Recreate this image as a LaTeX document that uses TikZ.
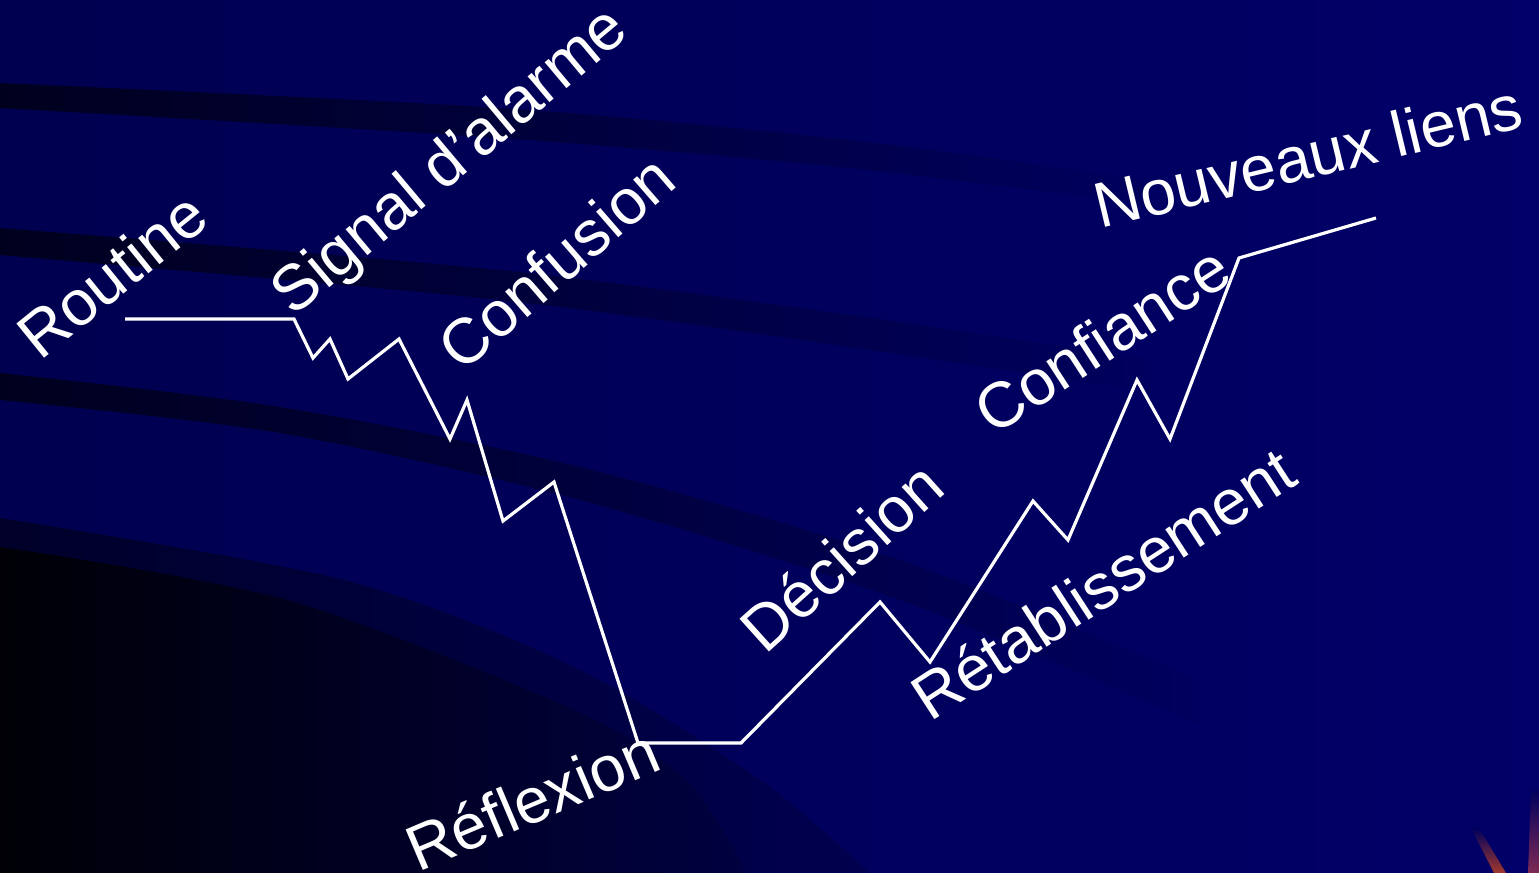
\documentclass[tikz,border=0pt]{standalone}
\usepackage{fontspec}
\setmainfont{Liberation Sans}
\definecolor{bgL}{HTML}{000050}
\definecolor{bgR}{HTML}{000068}
\definecolor{bg}{HTML}{00005E}
\definecolor{band}{HTML}{00001E}
\definecolor{ring}{HTML}{00002A}
\definecolor{deep}{HTML}{000006}
\definecolor{deepR}{HTML}{000040}
\definecolor{streakA}{HTML}{A0382E}
\definecolor{streakB}{HTML}{7E2A55}
\tikzset{
  lab/.style={text=white, inner sep=0pt, anchor=base west,
    font=\fontsize{32}{38}\selectfont},
  curveline/.style={draw=white, line width=1.6pt, line join=miter}
}
\begin{document}
\begin{tikzpicture}[x=0.5pt, y=-0.5pt]
\useasboundingbox (0,0) rectangle (1539,873);
% background
\shade[left color=bgL, right color=bgR] (0,0) rectangle (1539,873);
% band 1
\shade[left color=band, right color=bg]
  plot[smooth] coordinates {(0,83) (500,108) (850,140) (1150,180)}
  -- plot[smooth] coordinates {(1150,205) (850,168) (500,138) (0,108)} -- cycle;
% band 2
\shade[left color=band, right color=bg]
  plot[smooth] coordinates {(0,228) (500,270) (850,315) (1150,360)}
  -- plot[smooth] coordinates {(1150,392) (850,347) (500,300) (0,255)} -- cycle;
% band 3
\shade[left color=band, right color=bg]
  plot[smooth] coordinates {(0,373) (280,407) (580,467) (900,560) (1200,680)}
  -- plot[smooth] coordinates {(1200,725) (900,600) (580,500) (280,433) (0,400)} -- cycle;
% lower left dark region
\shade[left color=ring, right color=bg!70!ring]
  plot[smooth] coordinates {(0,518) (344,580) (574,667) (760,780) (870,873)}
  -- (0,873) -- cycle;
\shade[left color=deep, right color=deepR]
  plot[smooth] coordinates {(0,547) (287,600) (574,710) (689,783) (746,873)}
  -- (0,873) -- cycle;
% red streaks bottom right
\shade[top color=bg, bottom color=streakA] (1471,828) -- (1479,828) -- (1506,873) -- (1494,873) -- cycle;
\shade[top color=bg, bottom color=streakB] (1531,790) -- (1539,790) -- (1539,873) -- (1528,873) -- cycle;
% polyline vertices
\coordinate (p1) at (125,319);
\coordinate (p2) at (294,319);
\coordinate (p3) at (313,358);
\coordinate (p4) at (330,339);
\coordinate (p5) at (348,379);
\coordinate (p6) at (399,339);
\coordinate (p7) at (450,439);
\coordinate (p8) at (467,400);
\coordinate (p9) at (503,521);
\coordinate (p10) at (554,482);
\coordinate (p11) at (638,743);
\coordinate (p12) at (741,743);
\coordinate (p13) at (880,602);
\coordinate (p14) at (930,662);
\coordinate (p15) at (1033,501);
\coordinate (p16) at (1068,540);
\coordinate (p17) at (1137,380);
\coordinate (p18) at (1170,439);
\coordinate (p19) at (1239,258);
\coordinate (p20) at (1376,218);
\draw[curveline] (p1) -- (p2) -- (p3) -- (p4) -- (p5) -- (p6) -- (p7) -- (p8)
  -- (p9) -- (p10) -- (p11) -- (p12) -- (p13) -- (p14) -- (p15) -- (p16)
  -- (p17) -- (p18) -- (p19) -- (p20);
% labels
\node[lab, rotate=39] (routine) at (40,362) {Routine};
\node[lab, rotate=40] (signal) at (293,318) {Signal d’alarme};
\node[lab, rotate=41] (confusion) at (462,374) {Confusion};
\node[lab, rotate=23] (reflexion) at (418,873) {Réflexion};
\node[lab, rotate=42] (decision) at (765,656) {Décision};
\node[lab, rotate=33] (retab) at (930,723) {Rétablissement};
\node[lab, rotate=33] (confiance) at (993,437) {Confiance};
\node[lab, rotate=13.5] (nouveaux) at (1100,229) {Nouveaux liens};
\end{tikzpicture}
\end{document}
